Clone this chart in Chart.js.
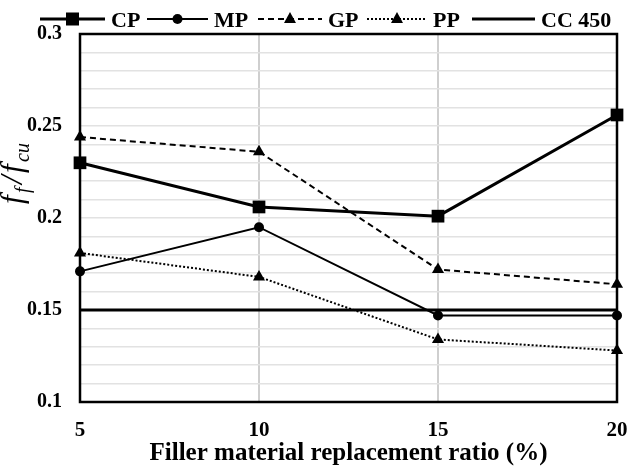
<!DOCTYPE html>
<html>
<head>
<meta charset="utf-8">
<script src="https://cdn.jsdelivr.net/npm/chart.js@4/dist/chart.umd.min.js"></script>
<style>
  html, body { margin: 0; padding: 0; background: #fff; }
  #wrap { width: 632px; height: 474px; }
</style>
</head>
<body>
<div id="wrap"><canvas id="chart"></canvas></div>
<script>
// data
var ratios = ['5', '10', '15', '20'];
var cp = [0.230, 0.206, 0.201, 0.256];
var mp = [0.171, 0.195, 0.147, 0.147];
var gp = [0.244, 0.236, 0.172, 0.164];
var pp = [0.181, 0.168, 0.134, 0.128];
var cc450 = [0.15, 0.15, 0.15, 0.15];
var yTickLabels = ['0.1', '0.15', '0.2', '0.25', '0.3'];

var serif = "'Liberation Serif', 'Times New Roman', serif";

// box round the plot area
var frame = {
  id: 'frame',
  beforeDatasetsDraw: function(chart){
    var a = chart.chartArea, ctx = chart.ctx;
    ctx.save();
    ctx.strokeStyle = '#000';
    ctx.lineWidth = 2.5;
    ctx.strokeRect(a.left, a.top, a.right - a.left, a.bottom - a.top);
    ctx.restore();
  }
};

function drawMark(ctx, kind, x, y){
  ctx.fillStyle = '#000';
  ctx.beginPath();
  if (kind == 'rect') {
    ctx.fillRect(x - 6.5, y - 6.5, 13, 13);
    return;
  } else if (kind == 'circle') {
    ctx.arc(x, y, 5, 0, Math.PI * 2);
  } else if (kind == 'triangle') {
    ctx.moveTo(x, y - 7);
    ctx.lineTo(x + 6, y + 4);
    ctx.lineTo(x - 6, y + 4);
    ctx.closePath();
  }
  ctx.fill();
}

// legend in one row above the plot, same as the figure
var topLegend = {
  id: 'topLegend',
  afterDraw: function(chart){
    var ctx = chart.ctx;
    var items = [
      {text: 'CP', x0: 40, x1: 105, mark: 'rect', dash: [], w: 3},
      {text: 'MP', x0: 147, x1: 208, mark: 'circle', dash: [], w: 2},
      {text: 'GP', x0: 258, x1: 322, mark: 'triangle', dash: [6, 4], w: 2},
      {text: 'PP', x0: 367, x1: 427, mark: 'triangle', dash: [2, 2], w: 2},
      {text: 'CC 450', x0: 472, x1: 535, mark: null, dash: [], w: 3}
    ];
    var ly = 19;
    ctx.save();
    items.forEach(function(it){
      ctx.strokeStyle = '#000';
      ctx.lineWidth = it.w;
      ctx.setLineDash(it.dash);
      ctx.beginPath();
      ctx.moveTo(it.x0, ly);
      ctx.lineTo(it.x1, ly);
      ctx.stroke();
      ctx.setLineDash([]);
      if (it.mark) drawMark(ctx, it.mark, (it.x0 + it.x1) / 2, ly);
      ctx.fillStyle = '#000';
      ctx.font = 'bold 22px ' + serif;
      ctx.textBaseline = 'alphabetic';
      ctx.textAlign = 'left';
      ctx.fillText(it.text, it.x1 + 6, 27);
    });
    ctx.restore();
  }
};

// y title f_f / f_cu with subscripts
var yTitle = {
  id: 'yTitle',
  afterDraw: function(chart){
    var ctx = chart.ctx;
    ctx.save();
    ctx.translate(22, 204);
    ctx.rotate(-Math.PI / 2);
    ctx.fillStyle = '#000';
    ctx.textAlign = 'left';
    ctx.textBaseline = 'alphabetic';
    var big = 'italic 31px ' + serif, small = 'italic 20px ' + serif;
    ctx.font = big;  ctx.fillText('f', 0, 0);
    ctx.font = small; ctx.fillText('f', 11, 7);
    ctx.font = big;  ctx.fillText('/', 20, 0);
    ctx.font = big;  ctx.fillText('f', 31, 0);
    ctx.font = small; ctx.fillText('cu', 42, 7);
    ctx.restore();
  }
};

var ctx = document.getElementById('chart');
var myChart = new Chart(ctx, {
  type: 'line',
  data: {
    labels: ratios,
    datasets: [
      {label: 'CC 450', data: cc450, borderColor: '#000', borderWidth: 3, pointRadius: 0},
      {label: 'CP', data: cp, borderColor: '#000', backgroundColor: '#000', borderWidth: 3,
        pointStyle: 'rect', pointRadius: 9, pointBorderWidth: 0},
      {label: 'MP', data: mp, borderColor: '#000', backgroundColor: '#000', borderWidth: 2,
        pointStyle: 'circle', pointRadius: 5, pointBorderWidth: 0},
      {label: 'GP', data: gp, borderColor: '#000', backgroundColor: '#000', borderWidth: 2,
        borderDash: [6, 4], pointStyle: 'triangle', pointRadius: 7, pointBorderWidth: 0},
      {label: 'PP', data: pp, borderColor: '#000', backgroundColor: '#000', borderWidth: 2,
        borderDash: [2, 2], pointStyle: 'triangle', pointRadius: 7, pointBorderWidth: 0}
    ]
  },
  options: {
    responsive: true,
    maintainAspectRatio: false,
    animation: false,
    layout: {padding: {top: 34, right: 15, left: 0, bottom: 0}},
    plugins: {
      legend: {display: false},
      tooltip: {enabled: false}
    },
    scales: {
      x: {
        type: 'category',
        offset: false,
        border: {display: false},
        grid: {
          drawTicks: false,
          lineWidth: 2,
          color: function(c){ return (c.index == 0 || c.index == ratios.length - 1) ? 'rgba(0,0,0,0)' : '#cfcfcf'; }
        },
        ticks: {color: '#000', padding: 16, font: {family: serif, size: 21, weight: 'bold'}},
        title: {
          display: true,
          text: 'Filler material replacement ratio (%)',
          color: '#000',
          font: {family: serif, size: 25, weight: 'bold'},
          padding: {top: 0, bottom: 5}
        },
        afterFit: function(s){ s.height = 72; s.paddingLeft = 0; s.paddingRight = 0; }
      },
      y: {
        min: 0.1,
        max: 0.3,
        border: {display: false},
        grid: {drawTicks: false, color: '#e2e2e2', lineWidth: 1.5},
        ticks: {
          stepSize: 0.01,
          autoSkip: false,
          padding: 18,
          color: '#000',
          font: {family: serif, size: 20, weight: 'bold'},
          callback: function(v){
            var s = String(Math.round(v * 100) / 100);
            return yTickLabels.indexOf(s) >= 0 ? s : '';
          }
        },
        afterFit: function(s){ s.width = 80; s.paddingTop = 0; s.paddingBottom = 0; }
      }
    }
  },
  plugins: [frame, topLegend, yTitle]
});
</script>
</body>
</html>
